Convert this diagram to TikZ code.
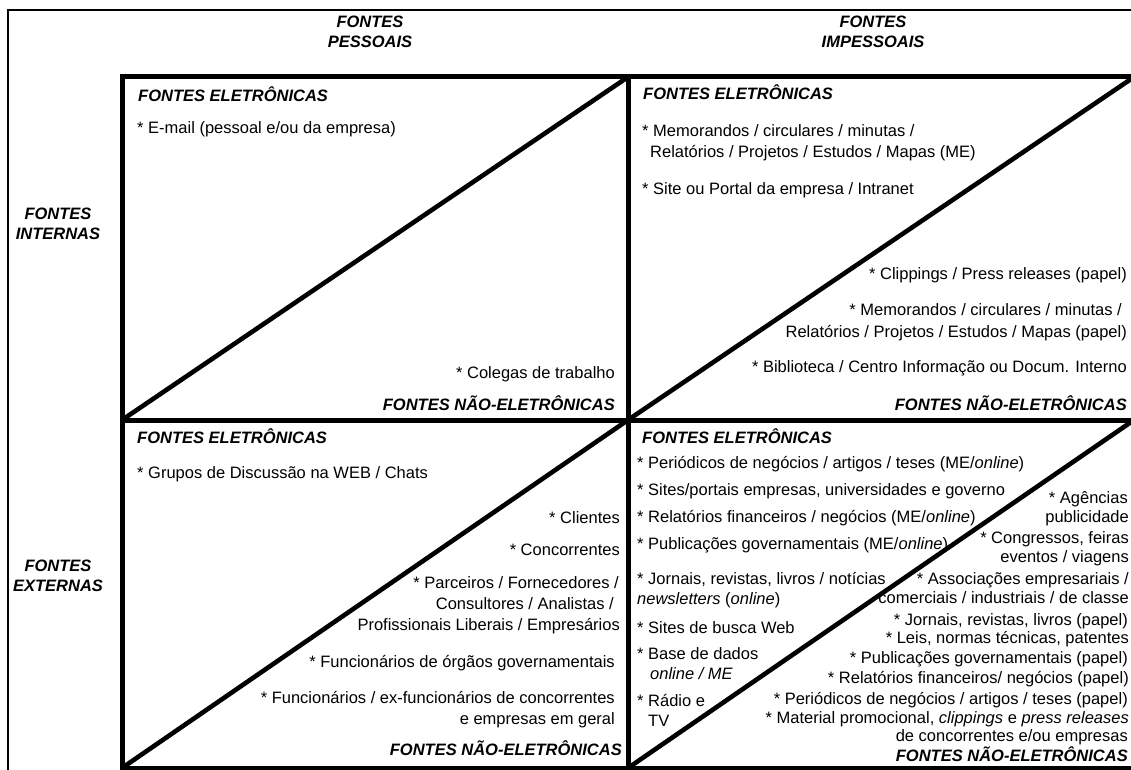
\documentclass[tikz,border=0pt]{standalone}
\usepackage{fontspec}
\setmainfont{Liberation Sans}
\begin{document}
\begin{tikzpicture}[x=1pt,y=-1pt,
  tx/.style={inner sep=0pt,font=\fontsize{16.5}{20.5}\selectfont},
  hd/.style={inner sep=0pt,font=\fontsize{16.5}{20.5}\selectfont\bfseries\itshape},
  gridline/.style={line width=5pt,line join=miter},
  diag/.style={line width=4.6pt},
  framel/.style={line width=1.8pt}]
\useasboundingbox (0,0) rectangle (1131,770);
\clip (0,0) rectangle (1131,770);
\fill[white] (0,0) rectangle (1131,770);
% outer frame
\draw[framel] (8,780) -- (8,10) -- (1140,10);
% grid corners
\coordinate (A) at (122,77);
\coordinate (B) at (628,77);
\coordinate (C) at (1134,77);
\coordinate (D) at (122,420);
\coordinate (E) at (628,420);
\coordinate (F) at (1134,420);
\coordinate (G) at (122,768);
\coordinate (H) at (628,768);
\coordinate (I) at (1134,768);
\draw[gridline] (122,775) -- (A) -- (1145,77);
\draw[gridline] (B) -- (628,775);
\draw[gridline] (D) -- (1145,420);
\draw[gridline] (G) -- (1145,768);
% diagonals
\draw[diag] (D) -- (B);
\draw[diag] (E) -- (C);
\draw[diag] (G) -- (E);
\draw[diag] (H) -- (F);
% axis labels
\node[hd,align=center] (tp) at (370,32) {FONTES\\PESSOAIS};
\node[hd,align=center] (ti) at (873,32) {FONTES\\IMPESSOAIS};
\node[hd,align=center] (li) at (58,224) {FONTES\\INTERNAS};
\node[hd,align=center] (le) at (58,576) {FONTES\\EXTERNAS};
% upper left
\node[hd,anchor=base west] (ule) at (138,102) {FONTES ELETRÔNICAS};
\node[tx,anchor=base west] (ul1) at (137,134) {* E-mail (pessoal e/ou da empresa)};
\node[tx,anchor=base east] (ul2) at (615,378) {* Colegas de trabalho};
\node[hd,anchor=base east] (uln) at (615,410) {FONTES NÃO-ELETRÔNICAS};
% upper right
\node[hd,anchor=base west] (ure) at (643,100) {FONTES ELETRÔNICAS};
\node[tx,anchor=base west] (ur1) at (642,137) {* Memorandos / circulares / minutas /};
\node[tx,anchor=base west] (ur1b) at (650,158) {Relatórios / Projetos / Estudos / Mapas (ME)};
\node[tx,anchor=base west] (ur2) at (642,194) {* Site ou Portal da empresa / Intranet};
\node[tx,anchor=base east] (ur3) at (1127,279) {* Clippings / Press releases (papel)};
\node[tx,anchor=base east] (ur4) at (1122,315) {* Memorandos / circulares / minutas /};
\node[tx,anchor=base east] (ur4b) at (1127,337) {Relatórios / Projetos / Estudos / Mapas (papel)};
\node[tx,anchor=base east] (ur5) at (1127,372) {* Biblioteca / Centro Informação ou Docum. Interno};
\node[hd,anchor=base east] (urn) at (1127,410) {FONTES NÃO-ELETRÔNICAS};
% lower left
\node[hd,anchor=base west] (lle) at (137,443) {FONTES ELETRÔNICAS};
\node[tx,anchor=base west] (ll1) at (137,478) {* Grupos de Discussão na WEB / Chats};
\node[tx,anchor=base east] (ll2) at (620,523) {* Clientes};
\node[tx,anchor=base east] (ll3) at (620,555) {* Concorrentes};
\node[tx,anchor=base east] (ll4) at (619,588) {* Parceiros / Fornecedores /};
\node[tx,anchor=base east] (ll4b) at (614,609) {Consultores / Analistas /};
\node[tx,anchor=base east] (ll4c) at (620,630) {Profissionais Liberais / Empresários};
\node[tx,anchor=base east] (ll5) at (615,667) {* Funcionários de órgãos governamentais};
\node[tx,anchor=base east] (ll6) at (615,703) {* Funcionários / ex-funcionários de concorrentes};
\node[tx,anchor=base east] (ll6b) at (615,724) {e empresas em geral};
\node[hd,anchor=base east] (lln) at (622,755) {FONTES NÃO-ELETRÔNICAS};
% lower right, electronic
\node[hd,anchor=base west] (lre) at (642,443) {FONTES ELETRÔNICAS};
\node[tx,anchor=base west] (lr1) at (637,468) {* Periódicos de negócios / artigos / teses (ME/\textit{online})};
\node[tx,anchor=base west] (lr2) at (637,495) {* Sites/portais empresas, universidades e governo};
\node[tx,anchor=base west] (lr3) at (637,522) {* Relatórios financeiros / negócios (ME/\textit{online})};
\node[tx,anchor=base west] (lr4) at (637,549) {* Publicações governamentais (ME/\textit{online})};
\node[tx,anchor=base west] (lr5) at (637,584) {* Jornais, revistas, livros / notícias};
\node[tx,anchor=base west] (lr5b) at (637,604) {\textit{newsletters} (\textit{online})};
\node[tx,anchor=base west] (lr6) at (637,633) {* Sites de busca Web};
\node[tx,anchor=base west] (lr7) at (637,659) {* Base de dados};
\node[tx,anchor=base west] (lr7b) at (650,679) {\textit{online / ME}};
\node[tx,anchor=base west] (lr8) at (637,706) {* Rádio e};
\node[tx,anchor=base west] (lr8b) at (648,726) {TV};
% lower right, non-electronic
\node[tx,anchor=base east] (lq1) at (1128,503) {* Agências};
\node[tx,anchor=base east] (lq1b) at (1129,522) {publicidade};
\node[tx,anchor=base east] (lq2) at (1129,543) {* Congressos, feiras};
\node[tx,anchor=base east] (lq2b) at (1129,562) {eventos / viagens};
\node[tx,anchor=base east] (lq3) at (1129,584) {* Associações empresariais /};
\node[tx,anchor=base east] (lq3b) at (1129,603) {comerciais / industriais / de classe};
\node[tx,anchor=base east] (lq4) at (1128,625) {* Jornais, revistas, livros (papel)};
\node[tx,anchor=base east] (lq5) at (1129,643) {* Leis, normas técnicas, patentes};
\node[tx,anchor=base east] (lq6) at (1128,663) {* Publicações governamentais (papel)};
\node[tx,anchor=base east] (lq7) at (1129,683) {* Relatórios financeiros/ negócios (papel)};
\node[tx,anchor=base east] (lq8) at (1128,704) {* Periódicos de negócios / artigos / teses (papel)};
\node[tx,anchor=base east] (lq9) at (1129,723) {* Material promocional, \textit{clippings} e \textit{press releases}};
\node[tx,anchor=base east] (lq9b) at (1128,741) {de concorrentes e/ou empresas};
\node[hd,anchor=base east] (lqn) at (1128,761) {FONTES NÃO-ELETRÔNICAS};
\end{tikzpicture}
\end{document}
